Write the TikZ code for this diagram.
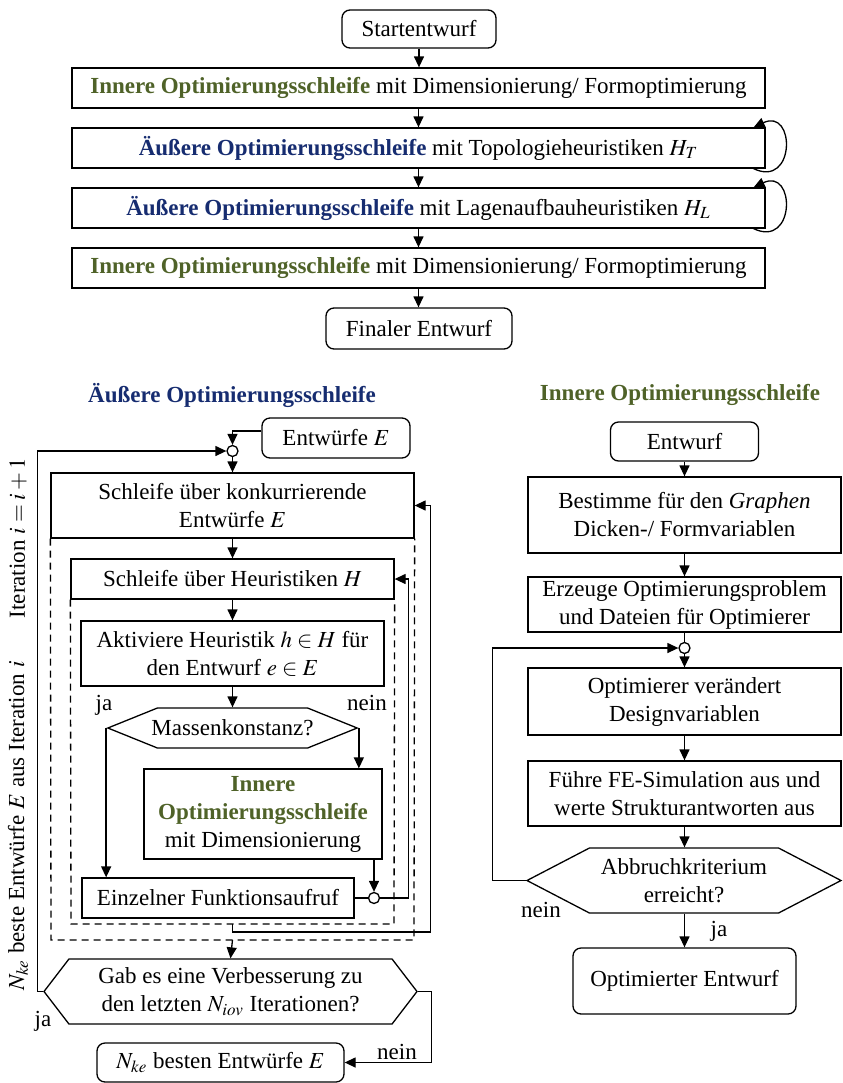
\documentclass[tikz,border=0pt]{standalone}
\usepackage{mathptmx}
\usepackage{fontspec}
\setmainfont{Liberation Serif}
\usepackage{xcolor}
\usetikzlibrary{arrows.meta,shapes.symbols}
\definecolor{innergreen}{RGB}{79,98,40}
\definecolor{outerblue}{RGB}{22,44,112}
\newcommand{\innertxt}[1]{\textbf{\color{innergreen}#1}}
\newcommand{\outertxt}[1]{\textbf{\color{outerblue}#1}}
\tikzset{
  box/.style={draw,rectangle,align=center,inner sep=1pt,line width=0.65pt},
  rbox/.style={box,rounded corners=4pt},
  hexa/.style={draw,signal,signal to=west and east,align=center,inner sep=1pt,line width=0.65pt},
  junc/.style={draw,circle,fill=white,minimum size=5.5pt,inner sep=0pt,line width=0.65pt},
  arr/.style={-{Triangle[length=5.5pt,width=5pt]},line width=0.65pt},
  ln/.style={line width=0.65pt},
  dsh/.style={dash pattern=on 3.5pt off 2.5pt,line width=0.65pt},
  lbl/.style={inner sep=0pt},
}
\begin{document}
\begin{tikzpicture}[x=0.5pt,y=-0.5pt,font=\fontsize{11.5}{14}\selectfont]
\useasboundingbox (0,0) rectangle (842,1083);

\node[rbox,minimum width=77pt,minimum height=19pt] (start) at (419,29) {Startentwurf};
\node[box,minimum width=346.5pt,minimum height=20pt] (b1) at (418.5,88) {\innertxt{Innere Optimierungsschleife} mit Dimensionierung/ Formoptimierung};
\node[box,minimum width=346.5pt,minimum height=20pt] (b2) at (418.5,148) {\outertxt{Äußere Optimierungsschleife} mit Topologieheuristiken $H_T$};
\node[box,minimum width=346.5pt,minimum height=20pt] (b3) at (418.5,208) {\outertxt{Äußere Optimierungsschleife} mit Lagenaufbauheuristiken $H_L$};
\node[box,minimum width=346.5pt,minimum height=20pt] (b4) at (418.5,268) {\innertxt{Innere Optimierungsschleife} mit Dimensionierung/ Formoptimierung};
\node[rbox,minimum width=93pt,minimum height=20.5pt] (fin) at (419,328.5) {Finaler Entwurf};
\foreach \a/\b in {start/b1,b1/b2,b2/b3,b3/b4,b4/fin}
  \draw[arr] (\a.south) -- (\a.south |- \b.north);
\foreach \n in {b2,b3}
  \draw[arr] ([xshift=-6pt]\n.south east) .. controls +(21pt,-10pt) and +(21pt,10pt) .. ([xshift=-6pt]\n.north east);

\node[font=\fontsize{11.5}{14}\selectfont\bfseries,text=outerblue] (tOut) at (232,395) {Äußere Optimierungsschleife};
\node[rbox,minimum width=74pt,minimum height=20pt] (ent) at (336,438) {Entwürfe $E$};
\node[junc] (c1) at (232.5,451) {};
\node[box,minimum width=181.5pt,minimum height=32.5pt] (sch) at (232.5,505.5) {Schleife über konkurrierende\\Entwürfe $E$};
\node[box,minimum width=161.5pt,minimum height=20pt] (heu) at (232.5,579) {Schleife über Heuristiken $H$};
\node[box,minimum width=151.5pt,minimum height=32.5pt] (akt) at (232.5,653.5) {Aktiviere Heuristik $h\in H$ für\\den Entwurf $e\in E$};
\node[hexa,signal pointer angle=44,inner xsep=-3pt,minimum height=20pt] (mass) at (232.5,728) {Massenkonstanz?};
\node[box,minimum width=119pt,minimum height=45pt] (inn) at (263,814) {\innertxt{Innere}\\\innertxt{Optimierungsschleife}\\mit Dimensionierung};
\node[box,minimum width=136pt,minimum height=20pt] (einz) at (218,898) {Einzelner Funktionsaufruf};
\node[junc] (c2) at (374,898) {};
\node[hexa,signal pointer angle=105,minimum width=186.5pt,minimum height=32.5pt] (gab) at (230.5,991.5) {Gab es eine Verbesserung zu\\den letzten $N_{iov}$ Iterationen?};
\node[rbox,minimum width=123.5pt,minimum height=19.5pt] (best) at (220.5,1062.5) {$N_{ke}$ besten Entwürfe $E$};
\node[rotate=90] (itA) at (18,826) {$N_{ke}$ beste Entwürfe $E$ aus Iteration $i$};
\node[rotate=90] (itB) at (18,538) {Iteration $i=i+1$};
\node[lbl] (ja1) at (104,705) {ja};
\node[lbl] (nein1) at (367,703) {nein};
\node[lbl] (ja2) at (43,1021) {ja};
\node[lbl] (nein2) at (397,1052) {nein};

\coordinate (o1) at (51,940);
\coordinate (o2) at (414,940);
\coordinate (ob) at (232.5,940);
\coordinate (i1) at (71,924);
\coordinate (i2) at (394,924);
\coordinate (ib) at (232.5,924);
\draw[dsh] (sch.south west) -- (o1) -- (o2) -- (sch.south east);
\draw[dsh] (heu.south west) -- (i1) -- (i2) -- (heu.south east);

\draw[arr] ([yshift=3.5pt]ent.west) -| (c1.north);
\draw[arr] (c1.south) -- (sch.north);
\draw[arr] (sch.south) -- (heu.north);
\draw[arr] (heu.south) -- (akt.north);
\draw[arr] (akt.south) -- (mass.north);
\draw[arr] (mass.west) -- (mass.west |- einz.north);
\draw[arr] (mass.east) -- (mass.east |- inn.north);
\draw[arr] (c2.north |- inn.south) -- (c2.north);
\draw[ln] (einz.east) -- (c2.west);
\draw[arr] (c2.east) -| ([xshift=7pt]heu.east) -- (heu.east);
\draw[arr] (ib) -- ++(0,-4pt) -| ([xshift=8pt]sch.east) -- (sch.east);
\draw[arr] (ob) -- (gab.north);
\draw[arr] (gab.west) -- ++(-3pt,0) |- (c1.west);
\draw[arr] (gab.east) -- ++(7pt,0) |- (best.east);

\node[font=\fontsize{11.5}{14}\selectfont\bfseries,text=innergreen] (tIn) at (680,395) {Innere Optimierungsschleife};
\node[rbox,minimum width=74pt,minimum height=19.5pt] (entw) at (684.5,441.5) {Entwurf};
\node[box,minimum width=156.5pt,minimum height=38pt] (bes) at (684.5,515) {Bestimme für den \textit{Graphen}\\Dicken-/ Formvariablen};
\node[box,minimum width=156.5pt,minimum height=27.5pt] (erz) at (684.5,604.5) {Erzeuge Optimierungsproblem\\und Dateien für Optimierer};
\node[junc] (c3) at (684.5,648) {};
\node[box,minimum width=156.5pt,minimum height=33.5pt] (opt) at (684.5,701.5) {Optimierer verändert\\Designvariablen};
\node[box,minimum width=156.5pt,minimum height=32.5pt] (fue) at (684.5,793.5) {Führe FE-Simulation aus und\\werte Strukturantworten aus};
\node[hexa,signal pointer angle=55,minimum width=157pt,minimum height=32.5pt] (abb) at (684,880.5) {Abbruchkriterium\\erreicht?};
\node[rbox,minimum width=111.5pt,minimum height=33pt] (optE) at (684.5,981) {Optimierter Entwurf};
\node[lbl] (nein3) at (541,910) {nein};
\node[lbl] (ja3) at (719,931) {ja};

\draw[arr] (entw.south) -- (bes.north);
\draw[arr] (bes.south) -- (erz.north);
\draw[ln] (erz.south) -- (c3.north);
\draw[arr] (c3.south) -- (opt.north);
\draw[arr] (opt.south) -- (fue.north);
\draw[arr] (fue.south) -- (fue.south |- abb.north);
\draw[arr] (fue.south |- abb.south) -- (optE.north);
\draw[arr] (abb.west) -- ++(-16.5pt,0) |- (c3.west);
\end{tikzpicture}
\end{document}
